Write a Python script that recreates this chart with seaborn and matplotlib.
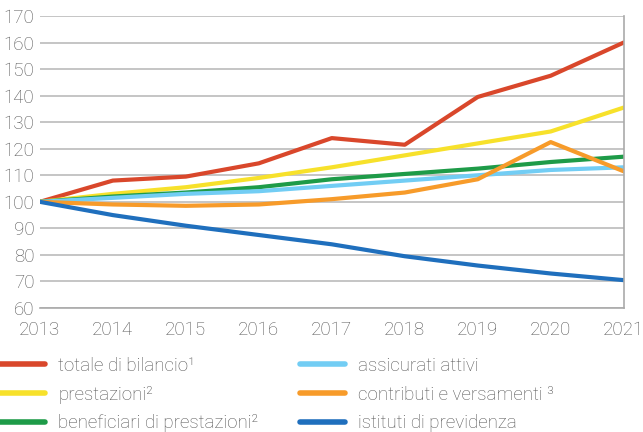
import pandas as pd
import matplotlib.pyplot as plt
import seaborn as sns

years = [2013, 2014, 2015, 2016, 2017, 2018, 2019, 2020, 2021]
totale = [100, 108, 109.5, 114.5, 124, 121.5, 139.5, 147.5, 160]
prestazioni = [100, 103, 105.5, 109, 113, 117.5, 122, 126.5, 135.5]
beneficiari = [100, 102, 103.5, 105.5, 108.5, 110.5, 112.5, 115, 117]
assicurati = [100, 101.5, 103, 104, 106, 108, 110, 112, 113]
contributi = [100, 99, 98.5, 99, 101, 103.5, 108.5, 122.5, 111.5]
istituti = [100, 95, 91, 87.5, 84, 79.5, 76, 73, 70.5]

labels = ['totale di bilancio¹', 'prestazioni²', 'beneficiari di prestazioni²',
          'assicurati attivi', 'contributi e versamenti ³', 'istituti di previdenza']
colors = ['#d9472b', '#f7e12b', '#1e9b48', '#72cdf4', '#f79b2a', '#1f6fbd']
series = [totale, prestazioni, beneficiari, assicurati, contributi, istituti]

df = pd.concat([pd.DataFrame({'anno': years, 'indice': v, 'serie': l})
                for l, v in zip(labels, series)])

sns.set_style('white')
plt.rcParams['font.family'] = ['Roboto', 'DejaVu Sans']
plt.rcParams['font.weight'] = 'light'
text_col = '#555555'

fig = plt.figure(figsize=(6.43, 4.32), dpi=100)
ax = fig.add_axes([0.062, 0.287, 0.908, 0.676])

sns.lineplot(data=df, x='anno', y='indice', hue='serie', hue_order=labels,
             palette=colors, linewidth=3, ax=ax, legend=False)

ax.set_xlim(2013, 2021)
ax.set_ylim(60, 170)
ax.set_yticks(range(60, 171, 10))
ax.set_xticks(years)
ax.set_xticks([y + 0.5 for y in years[:-1]], minor=True)
ax.grid(axis='y', color='#bbbbbb', linewidth=1.2)
ax.set_axisbelow(True)
ax.set_xlabel('')
ax.set_ylabel('')
for s in ['top', 'left']:
    ax.spines[s].set_visible(False)
for s in ['bottom', 'right']:
    ax.spines[s].set_color('#aaaaaa')
    ax.spines[s].set_linewidth(1.2)
ax.tick_params(axis='x', which='both', direction='out', color='#aaaaaa',
               length=4, labelsize=13.5, labelcolor=text_col, pad=5)
ax.tick_params(axis='x', which='minor', length=3)
ax.tick_params(axis='y', length=0, labelsize=13.5, labelcolor=text_col, pad=4)

handles = [plt.Line2D([], [], color=c, linewidth=4) for c in colors]
fig.legend(handles, labels, ncol=2, loc='upper left', bbox_to_anchor=(0.0, 0.1735),
           frameon=False, fontsize=13.5, handlelength=2.4, handletextpad=0.7,
           columnspacing=2.2, labelspacing=0.57, labelcolor=text_col,
           borderaxespad=0, borderpad=0)

fig.savefig('out.png', dpi=100)
